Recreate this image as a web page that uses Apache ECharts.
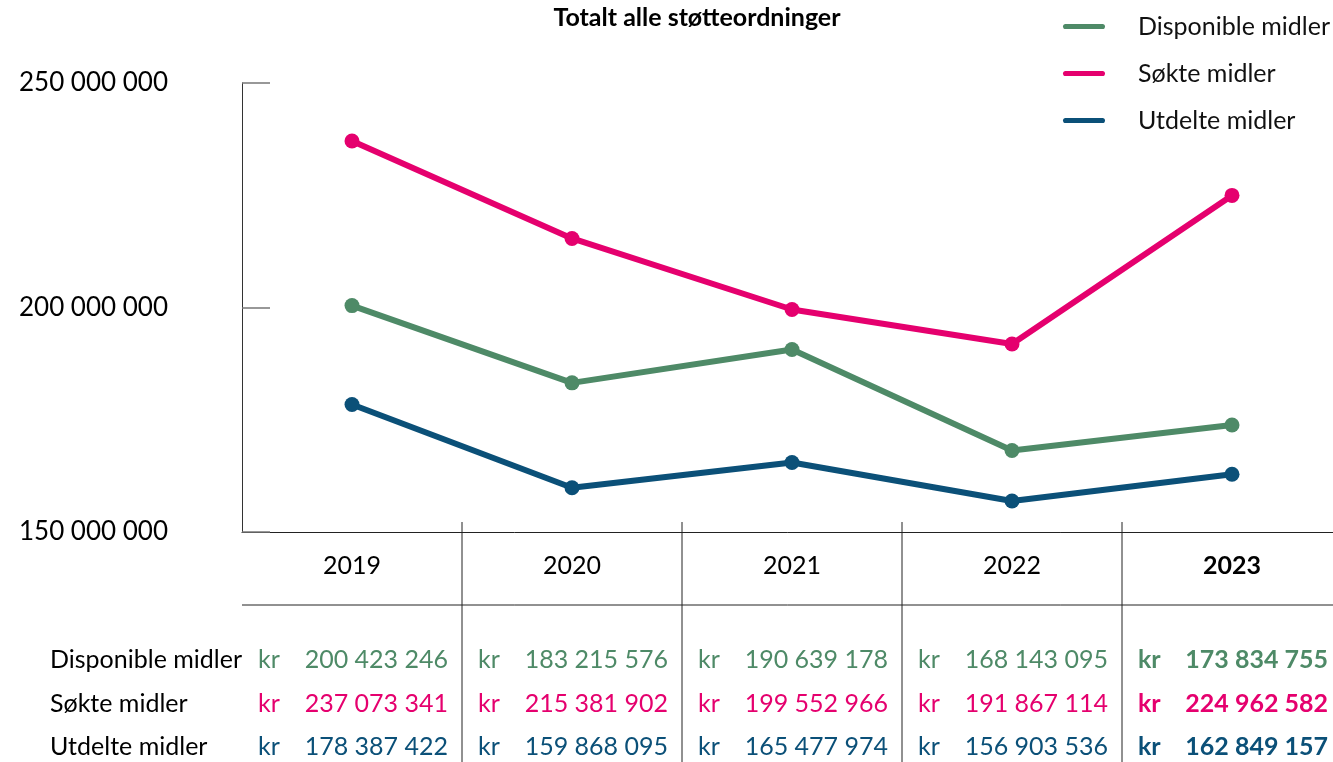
<!DOCTYPE html>
<html>
<head>
<meta charset="utf-8">
<script src="https://cdn.jsdelivr.net/npm/echarts@6/dist/echarts.min.js"></script>
<style>
  html, body { margin: 0; padding: 0; background: #fff; }
  #main { width: 1333px; height: 762px; }
</style>
</head>
<body>
<div id="main"></div>
<script>
// data
const years = ['2019', '2020', '2021', '2022', '2023']
const seriesNames = ['Disponible midler', 'Søkte midler', 'Utdelte midler']
const disponible = [200423246, 183215576, 190639178, 168143095, 173834755]
const sokte = [237073341, 215381902, 199552966, 191867114, 224962582]
const utdelte = [178387422, 159868095, 165477974, 156903536, 162849157]
const colors = ['#4e8a67', '#e5006e', '#0b5078']

const FONT = 'Lato, "Noto Sans", sans-serif'
const FS = 25

const fmt = v => String(Math.round(v)).replace(/\B(?=(\d{3})+(?!\d))/g, ' ')

const chart = echarts.init(document.getElementById('main'))

const lineSeries = (name, data, color) => ({
  name: name,
  type: 'line',
  data: data,
  symbol: 'circle',
  symbolSize: 15,
  lineStyle: { width: 6, color: color, cap: 'round', join: 'round' },
  itemStyle: { color: color },
  emphasis: { disabled: true },
  z: 3
})

const option = {
  animation: false,
  title: {
    text: 'Totalt alle støtteordninger',
    left: 692,
    textAlign: 'center',
    top: 0,
    textStyle: { fontFamily: FONT, fontSize: 25, fontWeight: 'bold', color: '#000' }
  },
  legend: {
    orient: 'vertical',
    left: 1058,
    top: 9,
    itemGap: 22,
    itemWidth: 42,
    itemHeight: 26,
    icon: 'path://M3,11 L39,11 A2.5,2.5 0 0 1 39,16 L3,16 A2.5,2.5 0 0 1 3,11 Z',
    data: seriesNames,
    textStyle: { fontFamily: FONT, fontSize: FS, color: '#111', padding: [0, 0, 0, 28] }
  },
  grid: { left: 242, top: 83, width: 1100, bottom: 230, outerBoundsMode: 'none' },
  xAxis: {
    type: 'category',
    data: years,
    boundaryGap: true,
    axisLine: { lineStyle: { color: '#222', width: 1 } },
    axisTick: { show: false },
    axisLabel: {
      margin: 21,
      fontFamily: FONT,
      fontSize: FS,
      color: '#000',
      formatter: v => v === '2023' ? '{b|' + v + '}' : v,
      rich: { b: { fontFamily: FONT, fontSize: FS, fontWeight: 'bold', color: '#000' } }
    }
  },
  yAxis: {
    type: 'value',
    min: 150000000,
    max: 250000000,
    interval: 50000000,
    axisLine: { show: true, lineStyle: { color: '#333', width: 1 } },
    axisTick: { show: true, inside: true, length: 28, lineStyle: { color: '#777', width: 1.5 } },
    splitLine: { show: false },
    axisLabel: {
      margin: 74,
      fontFamily: FONT,
      fontSize: 26,
      color: '#000',
      formatter: v => fmt(v)
    }
  },
  series: [
    lineSeries(seriesNames[0], disponible, colors[0]),
    lineSeries(seriesNames[1], sokte, colors[1]),
    lineSeries(seriesNames[2], utdelte, colors[2])
  ]
}

chart.setOption(option)

// table below the chart
const rows = [disponible, sokte, utdelte]
const rowY = [660, 704, 747]
const gridLeft = 242
const cellW = chart.convertToPixel({ xAxisIndex: 0 }, years[1]) - chart.convertToPixel({ xAxisIndex: 0 }, years[0])
const graphics = []

graphics.push({
  type: 'line',
  shape: { x1: gridLeft, y1: 605, x2: 1333, y2: 605 },
  style: { stroke: '#222', lineWidth: 1 }
})

years.forEach((y, i) => {
  const cx = chart.convertToPixel({ xAxisIndex: 0 }, y)
  const left = cx - cellW / 2
  const right = cx + cellW / 2
  if (i > 0) {
    graphics.push({
      type: 'line',
      shape: { x1: left, y1: 522, x2: left, y2: 762 },
      style: { stroke: '#222', lineWidth: 1 }
    })
  }
  const bold = i === years.length - 1
  rows.forEach((vals, r) => {
    graphics.push({
      type: 'text',
      x: left + 16,
      y: rowY[r],
      style: {
        text: 'kr',
        fill: colors[r],
        font: (bold ? 'bold ' : '') + FS + 'px ' + FONT,
        verticalAlign: 'middle'
      }
    })
    graphics.push({
      type: 'text',
      x: right - 14,
      y: rowY[r],
      style: {
        text: fmt(vals[i]),
        fill: colors[r],
        font: (bold ? 'bold ' : '') + FS + 'px ' + FONT,
        align: 'right',
        verticalAlign: 'middle'
      }
    })
  })
})

seriesNames.forEach((n, r) => {
  graphics.push({
    type: 'text',
    x: 50,
    y: rowY[r],
    style: { text: n, fill: '#000', font: FS + 'px ' + FONT, verticalAlign: 'middle' }
  })
})

chart.setOption({ graphic: graphics })
</script>
</body>
</html>
